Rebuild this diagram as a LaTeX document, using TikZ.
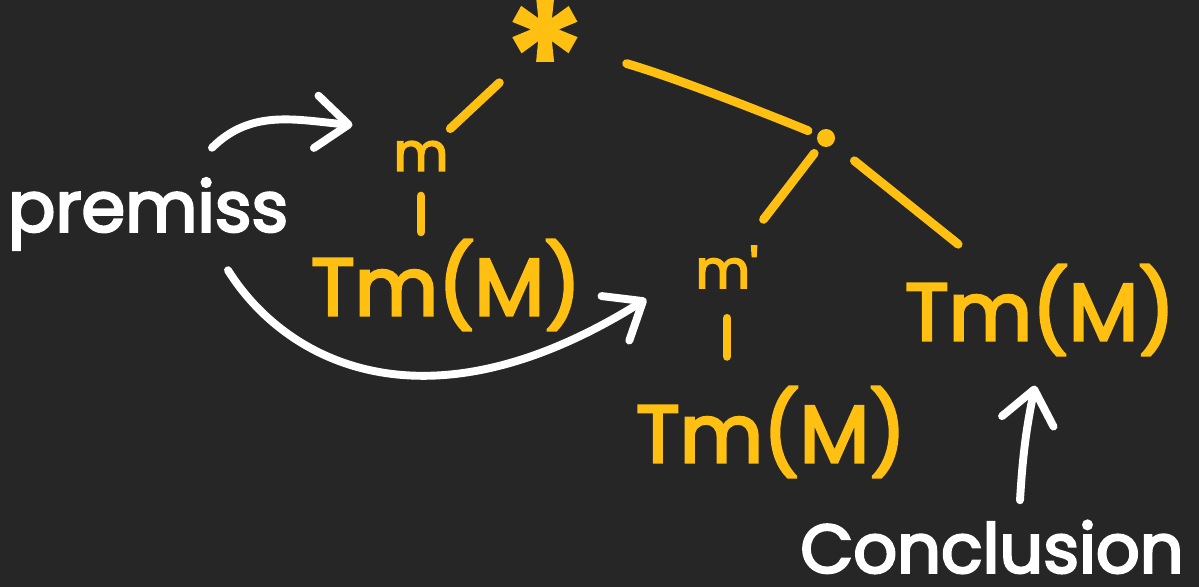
\documentclass[tikz,border=0pt]{standalone}
\usepackage{fontspec}
\setmainfont{Poppins}[FakeBold=3.5]
\usetikzlibrary{arrows.meta}
\definecolor{BoardDark}{HTML}{262626}
\definecolor{BoardGold}{HTML}{FFC012}
\definecolor{BoardChalk}{HTML}{FFFFFF}
\tikzset{
  every node/.style={inner sep=0pt},
  term/.style={text=BoardGold, font=\fontsize{46}{50}\selectfont},
  var/.style={text=BoardGold, font=\fontsize{30}{32}\selectfont},
  remark/.style={text=BoardChalk, font=\fontsize{40}{44}\selectfont},
  branch/.style={draw=BoardGold, line width=5pt, line cap=round},
  pointer/.style={-{Straight Barb[length=6.5mm,width=10.5mm,round]}, draw=BoardChalk, line width=4.5pt, line cap=round},
}

\begin{document}
\begin{tikzpicture}[x=0.02cm,y=-0.02cm]
  \useasboundingbox (0,0) rectangle (1199,587);
  \fill[BoardDark] (0,0) rectangle (1199,587);
  % the tree: root, inner point, variables and leaves
  \node[term, font=\fontsize{90}{90}\selectfont] (root) at (545,58) {*};
  \node[circle, fill=BoardGold, minimum size=3.6mm] (dot) at (826,138) {};
  \node[var] (m) at (421,156) {m};
  \node[var] (mp) at (727,267) {m\textquotesingle};
  \node[term] (tmA) at (446,285) {Tm(M)};
  \node[term] (tmB) at (771,432) {Tm(M)};
  \node[term] (tmC) at (1040,310) {Tm(M)};
  \draw[branch, shorten <=12.5mm, shorten >=8mm] ([yshift=3.6mm]root.center) -- (m.center);
  \draw[branch, shorten <=17mm, shorten >=2mm] ([yshift=3.6mm]root.center) to[bend left=3] (dot);
  \draw[branch, shorten <=5mm, shorten >=1.5mm] (m) -- (m |- tmA.north);
  \draw[branch, shorten <=2mm, shorten >=12mm] (dot) -- (mp.center);
  \draw[branch, shorten <=5.4mm, shorten >=21mm] (dot) -- (tmC.center);
  \draw[branch, shorten <=6mm, shorten >=6mm] (mp) -- (mp |- tmB.north);
  % the white notes
  \node[remark] (premiss) at (148,214) {premiss};
  \node[remark, font=\fontsize{39}{43}\selectfont] (concl) at (992,547) {Conclusion};
  \draw[pointer] ([shift={(64,-30)}]premiss.north) to[out=45, in=175] ([shift={(-41,-31)}]m.west);
  \draw[pointer] ([shift={(80,20)}]premiss.south) to[out=-58, in=212, out looseness=0.65, in looseness=1.6] ([shift={(-49,32)}]mp.west);
  \draw[pointer] ([shift={(28,-20)}]concl.north) to[bend left=4] ([shift={(-5,30)}]tmC.south);
\end{tikzpicture}
\end{document}
